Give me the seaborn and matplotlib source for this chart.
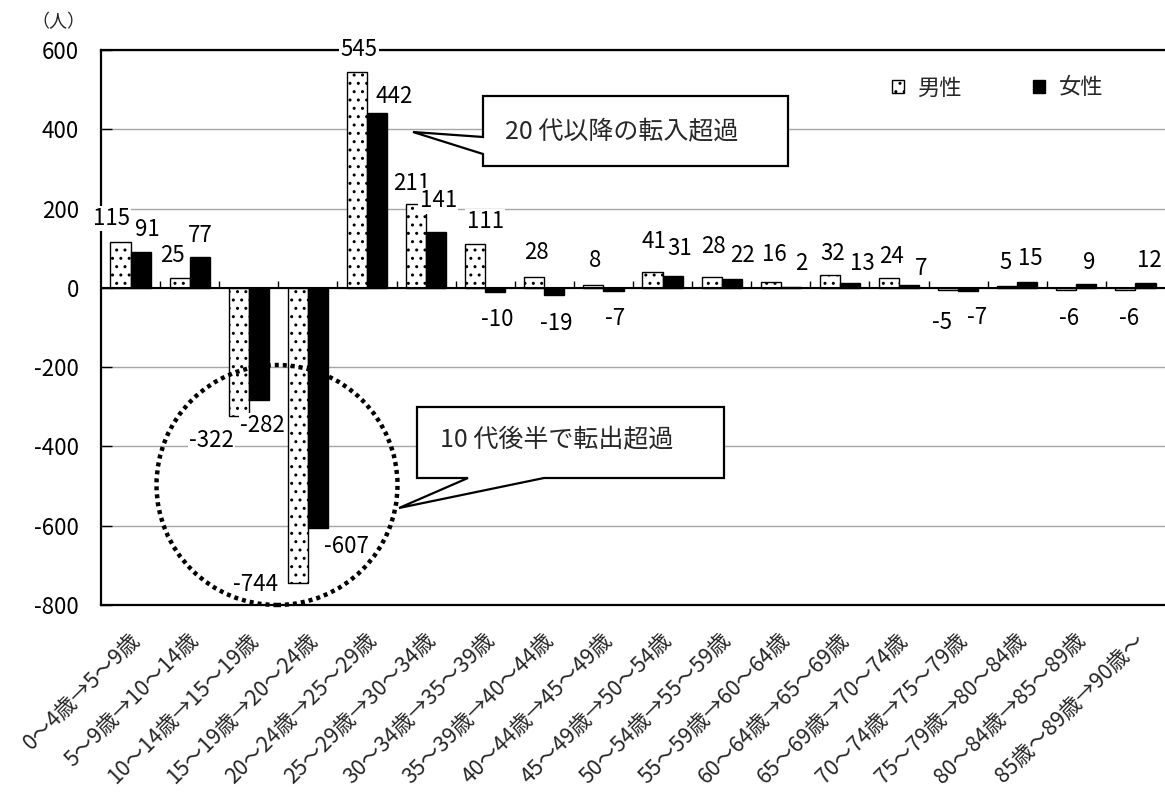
import numpy as np
import pandas as pd
import matplotlib
matplotlib.use("Agg")
import matplotlib.pyplot as plt
import matplotlib.markers as mmarkers
import matplotlib.transforms as mtransforms
from matplotlib.patches import Polygon, Ellipse, Patch
import seaborn as sns

# ---- data -------------------------------------------------------------
categories = [
    "0～4歳→5～9歳", "5～9歳→10～14歳", "10～14歳→15～19歳", "15～19歳→20～24歳",
    "20～24歳→25～29歳", "25～29歳→30～34歳", "30～34歳→35～39歳", "35～39歳→40～44歳",
    "40～44歳→45～49歳", "45～49歳→50～54歳", "50～54歳→55～59歳", "55～59歳→60～64歳",
    "60～64歳→65～69歳", "65～69歳→70～74歳", "70～74歳→75～79歳", "75～79歳→80～84歳",
    "80～84歳→85～89歳", "85歳～89歳→90歳～",
]
male = [115, 25, -322, -744, 545, 211, 111, 28, 8, 41, 28, 16, 32, 24, -5, 5, -6, -6]
female = [91, 77, -282, -607, 442, 141, -10, -19, -7, 31, 22, 2, 13, 7, -7, 15, 9, 12]
series_names = ["男性", "女性"]
y_ticks = [600, 400, 200, 0, -200, -400, -600, -800]
unit_label = "（人）"
note_in = "20 代以降の転入超過"
note_out = "10 代後半で転出超過"

df = pd.DataFrame({
    "区分": categories * 2,
    "性別": [series_names[0]] * len(categories) + [series_names[1]] * len(categories),
    "人数": male + female,
})

# ---- style ------------------------------------------------------------
sns.set_style("white")
plt.rcParams["font.family"] = ["Noto Sans CJK JP", "DejaVu Sans"]
plt.rcParams["axes.unicode_minus"] = False
plt.rcParams["hatch.linewidth"] = 1.0

W, H = 1165, 793
fig = plt.figure(figsize=(W / 100, H / 100), dpi=100)
ax = fig.add_axes([101 / W, 1 - 605 / H, 1064 / W, 555 / H])


def fig_xy(px, py):
    """Pixel position (origin top-left) to figure fraction."""
    return (px / W, 1 - py / H)


sns.barplot(
    data=df, x="区分", y="人数", hue="性別", order=categories, hue_order=series_names,
    palette={series_names[0]: "white", series_names[1]: "black"},
    edgecolor="black", linewidth=1.0, width=0.68, saturation=1, legend=False, ax=ax,
)

male_bars, female_bars = ax.containers[0], ax.containers[1]
for b in male_bars:
    b.set_hatch("..")
    b.set_edgecolor("black")
    b.set_zorder(3)
for b in female_bars:
    b.set_zorder(3)

ax.set_xlim(-0.5, len(categories) - 0.5)
ax.set_ylim(-800, 600)
ax.set_xlabel("")
ax.set_ylabel("")

# grid and frame
ax.set_yticks(y_ticks)
ax.set_yticklabels([str(v) for v in y_ticks])
ax.yaxis.grid(True, color="#a6a6a6", linewidth=1.0)
ax.set_axisbelow(True)
for side in ("left", "top", "bottom"):
    ax.spines[side].set_color("black")
    ax.spines[side].set_linewidth(1.6)
    ax.spines[side].set_zorder(4)
ax.spines["right"].set_visible(False)
ax.tick_params(axis="y", direction="in", length=8, width=1, colors="black",
               labelsize=16, pad=16, left=True)

# zero axis with category-boundary tick marks
ax.axhline(0, color="black", linewidth=1.5, zorder=4)
bounds = np.arange(0.5, len(categories) - 0.5, 1.0)
ax.plot(bounds, np.zeros_like(bounds), ls="none", marker=mmarkers.TICKUP,
        ms=5, mew=1, color="black", zorder=4)

# category labels, slanted and ending just right of each group centre
ax.set_xticks(range(len(categories)))
ax.set_xticklabels(categories)
ax.tick_params(axis="x", length=0, pad=23, labelsize=15.5, bottom=False)
shift = mtransforms.ScaledTranslation(6 / 100, 0, fig.dpi_scale_trans)
for lbl in ax.get_xticklabels():
    lbl.set_rotation(45)
    lbl.set_ha("right")
    lbl.set_va("center")
    lbl.set_rotation_mode("anchor")
    lbl.set_transform(lbl.get_transform() + shift)

# value labels (offsets in pixels from the bar end)
label_shift = {
    (0, 0): (-9, 24), (1, 0): (7, 22), (0, 1): (-7, 22), (1, 1): (1, 22),
    (0, 2): (-27, -25), (1, 2): (4, -26),
    (0, 3): (-42, -2), (1, 3): (28, -18),
    (0, 4): (2, 22), (1, 4): (17, 16),
    (0, 5): (-4, 21), (1, 5): (2, 31), (0, 6): (10, 22),
    (0, 9): (1, 30), (1, 9): (7, 27), (0, 10): (2, 30), (1, 10): (11, 24),
    (0, 11): (4, 27), (1, 11): (10, 24), (0, 12): (3, 22), (1, 12): (12, 19),
    (0, 13): (3, 22), (1, 13): (12, 17),
    (0, 14): (-6, -33), (1, 14): (9, -27),
    (0, 15): (-2, 23), (1, 15): (3, 23),
    (0, 16): (3, -28), (1, 16): (3, 22), (0, 17): (4, -28), (1, 17): (4, 23),
}
for s, (bars, vals) in enumerate([(male_bars, male), (female_bars, female)]):
    for i, (bar, v) in enumerate(zip(bars, vals)):
        xc = bar.get_x() + bar.get_width() / 2
        dx, dy = label_shift.get((s, i), (2, 24) if v >= 0 else (2, -28))
        ax.annotate(
            str(v), xy=(xc, v), xytext=(dx, dy), textcoords="offset pixels",
            ha="center", va="center", fontsize=16, color="black",
            bbox=dict(boxstyle="square,pad=0.05", fc="white", ec="none"),
            zorder=6, annotation_clip=False,
        )

# legend
handles = [
    Patch(facecolor="white", edgecolor="black", hatch="..", linewidth=1),
    Patch(facecolor="black", edgecolor="black", linewidth=1),
]
fig.legend(handles, series_names, loc="center right",
           bbox_to_anchor=fig_xy(1123, 88), bbox_transform=fig.transFigure,
           ncol=2, frameon=False, fontsize=16, handlelength=0.55, handleheight=0.55,
           handletextpad=0.6, columnspacing=3.2)

# unit label
fig.text(*fig_xy(58, 22), unit_label, fontsize=13, ha="center", va="center")

# callout: inflow
callout_in = [(483, 96), (788, 96), (788, 166), (483, 166), (483, 154),
              (413, 132), (483, 137)]
fig.patches.append(Polygon([fig_xy(*p) for p in callout_in], closed=True,
                           transform=fig.transFigure, fc="white", ec="black",
                           lw=1.6, zorder=7))
fig.text(*fig_xy(505, 131), note_in, fontsize=18, ha="left", va="center", zorder=8)

# callout: outflow
callout_out = [(417, 407), (724, 407), (724, 478), (544, 478), (399, 508),
               (468, 478), (417, 478)]
fig.patches.append(Polygon([fig_xy(*p) for p in callout_out], closed=True,
                           transform=fig.transFigure, fc="white", ec="black",
                           lw=1.6, zorder=7))
fig.text(*fig_xy(440, 440), note_out, fontsize=18, ha="left", va="center", zorder=8)

# dotted ring around the 15-24 outflow
cx, cy = fig_xy(277, 485)
fig.patches.append(Ellipse((cx, cy), 241 / W, 240 / H, transform=fig.transFigure,
                           fill=False, ec="black", lw=3.2, ls=(0, (0.9, 0.9)),
                           zorder=7))

fig.savefig("out.png", dpi=100)
